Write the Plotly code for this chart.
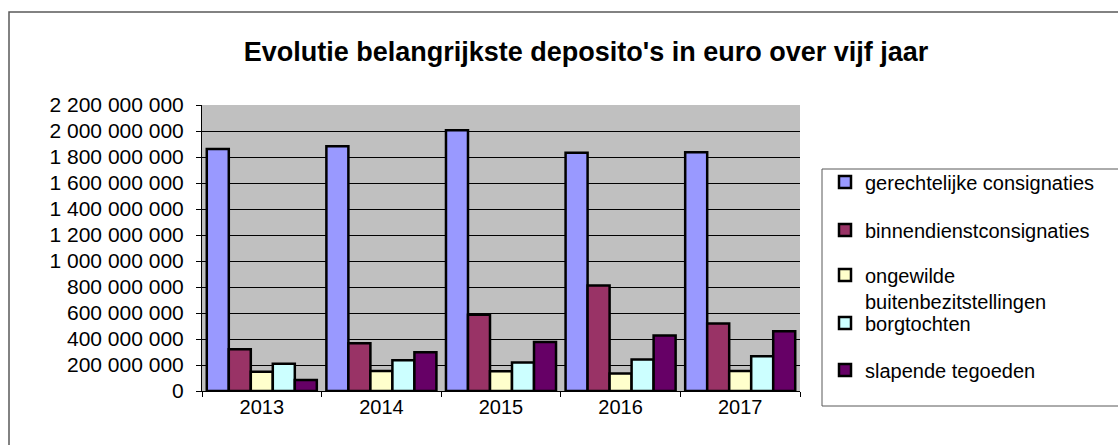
import plotly.graph_objects as go

years = ["2013", "2014", "2015", "2016", "2017"]
series_names = [
    "gerechtelijke consignaties",
    "binnendienstconsignaties",
    "ongewilde<br>buitenbezitstellingen",
    "borgtochten",
    "slapende tegoeden",
]
gerechtelijke = [1862000000, 1883000000, 2005000000, 1832000000, 1837000000]
binnendienst = [321000000, 367000000, 587000000, 811000000, 520000000]
ongewilde = [148000000, 153000000, 151000000, 135000000, 153000000]
borgtochten = [209000000, 237000000, 219000000, 242000000, 268000000]
slapende = [84000000, 298000000, 377000000, 426000000, 459000000]
y_ticks = [0, 200000000, 400000000, 600000000, 800000000, 1000000000, 1200000000,
           1400000000, 1600000000, 1800000000, 2000000000, 2200000000]

values = [gerechtelijke, binnendienst, ongewilde, borgtochten, slapende]
colors = ["#9999FF", "#993366", "#FFFFCC", "#CCFFFF", "#660066"]

# plot area in pixels
W, H = 1118, 445
L, R, T, B = 202, 800, 105, 391
pw, ph = R - L, B - T

def px_x(p):
    return (p - L) / pw

def px_y(p):
    return (B - p) / ph

FONT = "Liberation Sans, Arial, sans-serif"

fig = go.Figure()
legend_ids = ["legend", "legend2", "legend3", "legend4", "legend5"]
for name, vals, col, lid in zip(series_names, values, colors, legend_ids):
    fig.add_trace(go.Bar(
        x=years, y=vals, name=name,
        marker=dict(color=col, line=dict(color="black", width=2.5)),
        legend=lid,
    ))

legend_centers = [182, 230, 288, 323, 370]
leg_common = dict(
    xanchor="left", yanchor="middle", bgcolor="rgba(0,0,0,0)",
    xref="container", yref="container",
    borderwidth=0, font=dict(family=FONT, size=20, color="black"),
    valign="top",
)
legend_layout = {}
for lid, cy in zip(legend_ids, legend_centers):
    legend_layout[lid] = dict(x=825 / W, y=1 - cy / H, **leg_common)

fig.update_layout(
    width=W, height=H,
    margin=dict(l=L, r=W - R, t=T, b=H - B, autoexpand=False),
    paper_bgcolor="white",
    plot_bgcolor="#C0C0C0",
    barmode="group",
    bargap=0.08,
    bargroupgap=0,
    separators=". ",
    font=dict(family=FONT, color="black"),
    title=dict(
        text="<b>Evolutie belangrijkste deposito's in euro over vijf jaar</b>",
        x=586 / W, y=1 - 52 / H, xanchor="center", yanchor="middle",
        xref="container", yref="container",
        font=dict(family=FONT, size=27, color="black"),
    ),
    xaxis=dict(
        type="category", tickson="boundaries", ticks="outside", ticklen=5,
        tickcolor="black", showline=True, linecolor="black", linewidth=1,
        showgrid=False, tickfont=dict(family=FONT, size=20, color="black"),
        ticklabelstandoff=-2, automargin=False,
    ),
    yaxis=dict(
        range=[0, 2200000000], tickvals=y_ticks, tickformat=",d",
        ticks="outside", ticklen=5, tickcolor="black",
        showline=True, linecolor="black", linewidth=1,
        showgrid=True, gridcolor="black", gridwidth=1, zeroline=False,
        tickfont=dict(family=FONT, size=21, color="black"),
        ticklabelstandoff=8, automargin=False,
    ),
    shapes=[
        dict(type="rect", xref="paper", yref="paper",
             x0=px_x(9), x1=px_x(1130), y0=px_y(460), y1=px_y(12),
             line=dict(color="#595959", width=1.5), fillcolor="rgba(0,0,0,0)",
             layer="below"),
        dict(type="rect", xref="paper", yref="paper",
             x0=px_x(822), x1=px_x(1130), y0=px_y(406), y1=px_y(169),
             line=dict(color="#595959", width=1), fillcolor="rgba(0,0,0,0)"),
    ],
    showlegend=True,
    **legend_layout,
)

fig.write_html(
    "out.html",
    config={"displayModeBar": False},
    post_script="document.body.style.margin='0';document.body.style.overflow='hidden';",
)
